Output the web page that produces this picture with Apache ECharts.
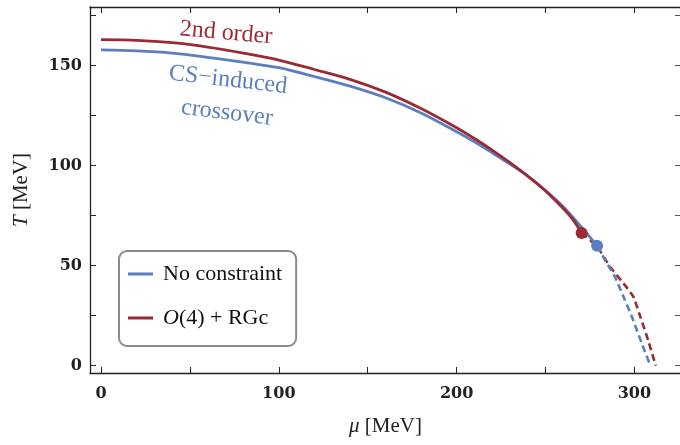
<!DOCTYPE html>
<html>
<head>
<meta charset="utf-8">
<script src="https://cdn.jsdelivr.net/npm/echarts@6/dist/echarts.min.js"></script>
<style>
html, body { margin: 0; padding: 0; background: #fff; }
#main { width: 680px; height: 445px; }
</style>
</head>
<body>
<div id="main"></div>
<script>
var blue = '#5b7fbe';
var red = '#9b2a35';

// solid lines
var muBlue = [0, 20, 40, 60, 80, 100, 120, 140, 160, 180, 200, 210, 220, 230, 240, 250, 260, 270, 279];
var tBlue = [157.9, 157.4, 156.3, 154.2, 151.8, 149.0, 144.6, 139.8, 134.0, 126.4, 117.0, 112.0, 106.5, 100.8, 94.8, 87.6, 79.5, 69.5, 60.0];
var muRed = [0, 20, 40, 60, 80, 100, 120, 140, 160, 180, 200, 210, 220, 230, 240, 250, 260, 265, 270.3];
var tRed = [163.0, 162.7, 161.5, 159.3, 156.3, 152.8, 148.1, 143.2, 136.8, 128.6, 119.0, 113.6, 107.8, 101.5, 94.8, 87.4, 78.6, 73.5, 66.4];

// dashed continuations
var muBlueDash = [279, 284, 289, 294, 299, 304, 309];
var tBlueDash = [60.0, 52.0, 44.5, 34.2, 23.5, 11.5, 0];
var muRedDash = [270.3, 279, 286.3, 293.8, 299.4, 303.5, 307.8, 312];
var tRedDash = [66.4, 59.5, 49.5, 41.2, 34.5, 24.0, 12.5, 0];

// end points (dots)
var pointBlue = [279, 60.0];
var pointRed = [270.3, 66.4];

var xTicks = [0, 50, 100, 150, 200, 250, 300];
var xLabels = [0, 100, 200, 300];
var yTicks = [0, 25, 50, 75, 100, 125, 150, 175];
var yLabels = [0, 50, 100, 150];

function pairs(xs, ys) {
    return xs.map(function (x, i) { return [x, ys[i]]; });
}

var serif = '"Liberation Serif", "DejaVu Serif", serif';
var tickFont = {fontFamily: '"DejaVu Serif", serif', fontWeight: 'bold', fontSize: 16, color: '#222'};
var spine = {onZero: false, lineStyle: {color: '#222', width: 1.3}};

var myChart = echarts.init(document.getElementById('main'), null, {renderer: 'canvas'});

var option = {
    animation: false,
    grid: {left: 90, right: -1, top: 7, bottom: 72, containLabel: false, outerBoundsMode: 'none'},
    xAxis: [{
        type: 'value', min: -6.2, max: 326.2,
        position: 'bottom',
        name: '{i|μ} [MeV]',
        nameLocation: 'middle', nameGap: 43,
        nameTextStyle: {fontFamily: serif, fontSize: 21, color: '#222',
            rich: {i: {fontFamily: serif, fontStyle: 'italic', fontSize: 21, color: '#222'}}},
        axisLine: spine,
        axisTick: {inside: true, length: 6, customValues: xTicks, lineStyle: {color: '#222'}},
        axisLabel: Object.assign({margin: 13, customValues: xLabels}, tickFont),
        splitLine: {show: false}
    }, {
        type: 'value', min: -6.2, max: 326.2,
        position: 'top',
        axisLine: spine,
        axisTick: {inside: true, length: 6, customValues: xTicks, lineStyle: {color: '#222'}},
        axisLabel: {show: false},
        splitLine: {show: false}
    }],
    yAxis: [{
        type: 'value', min: -3.65, max: 179.35,
        position: 'left',
        name: '{i|T} [MeV]',
        nameLocation: 'middle', nameGap: 58, nameRotate: 90,
        nameTextStyle: {fontFamily: serif, fontSize: 21, color: '#222',
            rich: {i: {fontFamily: serif, fontStyle: 'italic', fontSize: 21, color: '#222'}}},
        axisLine: spine,
        axisTick: {inside: true, length: 6, customValues: yTicks, lineStyle: {color: '#222'}},
        axisLabel: Object.assign({margin: 8, customValues: yLabels}, tickFont),
        splitLine: {show: false}
    }, {
        type: 'value', min: -3.65, max: 179.35,
        position: 'right',
        axisLine: spine,
        axisTick: {inside: true, length: 6, customValues: yTicks, lineStyle: {color: '#555'}},
        axisLabel: {show: false},
        splitLine: {show: false}
    }],
    legend: {
        data: ['No constraint', 'O(4) + RGc'],
        orient: 'vertical',
        left: 119, top: 251,
        padding: [11, 14, 16, 9],
        icon: 'rect',
        itemWidth: 25, itemHeight: 3, itemGap: 20,
        borderColor: '#8a8a8a', borderWidth: 2, borderRadius: 8,
        backgroundColor: '#fff',
        formatter: function (name) {
            return name === 'O(4) + RGc' ? '{i|O}(4) + RGc' : name;
        },
        textStyle: {
            fontFamily: serif, fontSize: 22, color: '#111', lineHeight: 24, padding: [0, 0, 0, 5],
            rich: {i: {fontFamily: serif, fontStyle: 'italic', fontSize: 22, color: '#111'}}
        }
    },
    graphic: [
        {type: 'text', x: 226, y: 33, rotation: -5 * Math.PI / 180,
            style: {text: '2nd order', fill: red, fontFamily: serif, fontSize: 24, align: 'center', verticalAlign: 'middle'}},
        {type: 'text', x: 228, y: 80, rotation: -6.5 * Math.PI / 180,
            style: {text: 'CS\u2212induced', fill: blue, fontFamily: serif, fontSize: 24, align: 'center', verticalAlign: 'middle'}},
        {type: 'text', x: 227, y: 113, rotation: -7 * Math.PI / 180,
            style: {text: 'crossover', fill: blue, fontFamily: serif, fontSize: 24, align: 'center', verticalAlign: 'middle'}}
    ],
    series: [{
        name: 'No constraint', type: 'line', z: 2,
        data: pairs(muBlue, tBlue), smooth: 0.3, symbol: 'none',
        lineStyle: {color: blue, width: 2.8}, itemStyle: {color: blue}
    }, {
        name: 'O(4) + RGc', type: 'line', z: 3,
        data: pairs(muRed, tRed), smooth: 0.3, symbol: 'none',
        lineStyle: {color: red, width: 2.8}, itemStyle: {color: red}
    }, {
        name: 'No constraint (dashed)', type: 'line', z: 2,
        data: pairs(muBlueDash, tBlueDash), smooth: 0.2, symbol: 'none',
        lineStyle: {color: blue, width: 2.6, type: [7, 4]}
    }, {
        name: 'O(4) + RGc (dashed)', type: 'line', z: 1,
        data: pairs(muRedDash, tRedDash), smooth: 0.15, symbol: 'none',
        lineStyle: {color: red, width: 2.6, type: [7, 4]}
    }, {
        name: 'O(4) + RGc CEP', type: 'scatter', z: 4,
        data: [pointRed], symbolSize: 12, itemStyle: {color: red, opacity: 1}
    }, {
        name: 'No constraint CEP', type: 'scatter', z: 4,
        data: [pointBlue], symbolSize: 12, itemStyle: {color: blue, opacity: 1}
    }]
};

myChart.setOption(option);
</script>
</body>
</html>
